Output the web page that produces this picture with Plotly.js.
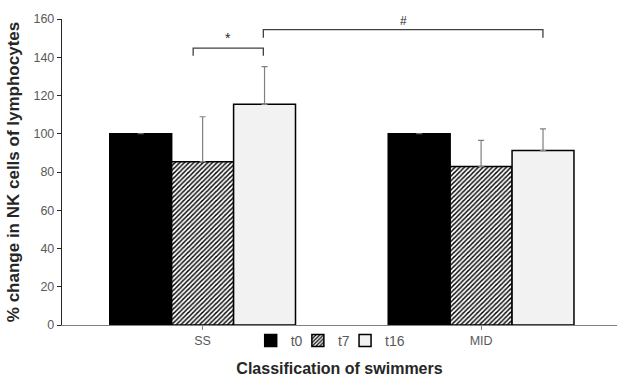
<!DOCTYPE html>
<html><head><meta charset="utf-8">
<script src="https://cdn.plot.ly/plotly-3.0.1.min.js"></script>
<style>html,body{margin:0;padding:0;background:#fff}#chart{width:617px;height:377px}</style>
</head><body><div id="chart"></div>
<script>
var categories = ['SS', 'MID'];
var seriesNames = ['t0', 't7', 't16'];
var t0Values = [100, 100];
var t7Values = [85.4, 82.9];
var t16Values = [115.4, 91.2];
var t0Err = [0, 0];
var t7Err = [23.5, 13.6];
var t16Err = [19.7, 11.4];
// significance brackets: [x0, x1, yTop, yEnd, label]
var bracketStar = [-0.034, 0.218, 144.8, 140.8, '*'];
var bracketHash = [0.218, 1.222, 154.4, 150.2, '#'];

var font = 'Liberation Sans, Arial, sans-serif';
var gray = '#595959';

function errBar(arr) {
  return {type: 'data', array: arr, arrayminus: arr.map(function(){return 0;}), symmetric: false,
          color: '#808080', thickness: 1.2, width: 3, visible: true};
}

var traces = [
  {type: 'bar', name: seriesNames[0], legend: 'legend', x: categories, y: t0Values, error_y: errBar(t0Err),
   marker: {color: '#000000', line: {color: '#000000', width: 1.5}}},
  {type: 'bar', name: seriesNames[1], legend: 'legend2', x: categories, y: t7Values, error_y: errBar(t7Err),
   marker: {color: '#ffffff', line: {color: '#000000', width: 1.5},
            pattern: {shape: '/', fgcolor: '#000000', bgcolor: '#ffffff', size: 3.3, solidity: 0.45}}},
  {type: 'bar', name: seriesNames[2], legend: 'legend3', x: categories, y: t16Values, error_y: errBar(t16Err),
   marker: {color: '#f2f2f2', line: {color: '#000000', width: 1.5}}}
];

function bracket(b) {
  return {type: 'path', xref: 'x', yref: 'y',
    path: 'M ' + b[0] + ' ' + b[3] + ' L ' + b[0] + ' ' + b[2] + ' L ' + b[1] + ' ' + b[2] + ' L ' + b[1] + ' ' + b[3],
    line: {color: '#404040', width: 1.3}};
}

function legendAt(x) {
  return {orientation: 'h', x: x, xanchor: 'left', y: -0.052, yanchor: 'middle',
          font: {family: font, size: 14, color: gray}, itemwidth: 30,
          bgcolor: 'rgba(0,0,0,0)', borderwidth: 0};
}

var layout = {
  width: 617, height: 377,
  margin: {l: 62, r: 0, t: 19, b: 52},
  paper_bgcolor: '#ffffff', plot_bgcolor: '#ffffff',
  barmode: 'group', bargap: 0.333, bargroupgap: 0,
  font: {family: font, color: gray, size: 12.5},
  showlegend: true,
  legend: legendAt(0.34),
  legend2: legendAt(0.425),
  legend3: legendAt(0.51),
  xaxis: {type: 'category', range: [-0.505, 1.488], showline: true, linecolor: '#808080', linewidth: 1.2,
          ticks: 'outside', ticklen: 4, tickcolor: '#808080', showgrid: false, zeroline: false,
          tickfont: {family: font, size: 12.5, color: gray},
          title: {text: 'Classification of swimmers', font: {family: font, size: 16, color: '#262626', weight: 'bold'}, standoff: 22}},
  yaxis: {range: [0, 160], dtick: 20, showline: true, linecolor: '#262626', linewidth: 1.2,
          ticks: 'outside', ticklen: 4, tickcolor: '#262626', showgrid: false, zeroline: false,
          tickfont: {family: font, size: 12.5, color: gray},
          title: {text: '% change in NK cells of lymphocytes', font: {family: font, size: 17, color: '#262626', weight: 'bold'}, standoff: 9}},
  shapes: [bracket(bracketStar), bracket(bracketHash)],
  annotations: [
    {xref: 'x', yref: 'y', x: (bracketStar[0] + bracketStar[1]) / 2, y: bracketStar[2], text: bracketStar[4],
     showarrow: false, yanchor: 'bottom', font: {family: font, size: 14, color: '#262626'}},
    {xref: 'x', yref: 'y', x: (bracketHash[0] + bracketHash[1]) / 2, y: bracketHash[2], text: bracketHash[4],
     showarrow: false, yanchor: 'bottom', font: {family: font, size: 12, color: '#262626'}}
  ]
};

Plotly.newPlot('chart', traces, layout, {displayModeBar: false, staticPlot: true});
</script></body></html>
